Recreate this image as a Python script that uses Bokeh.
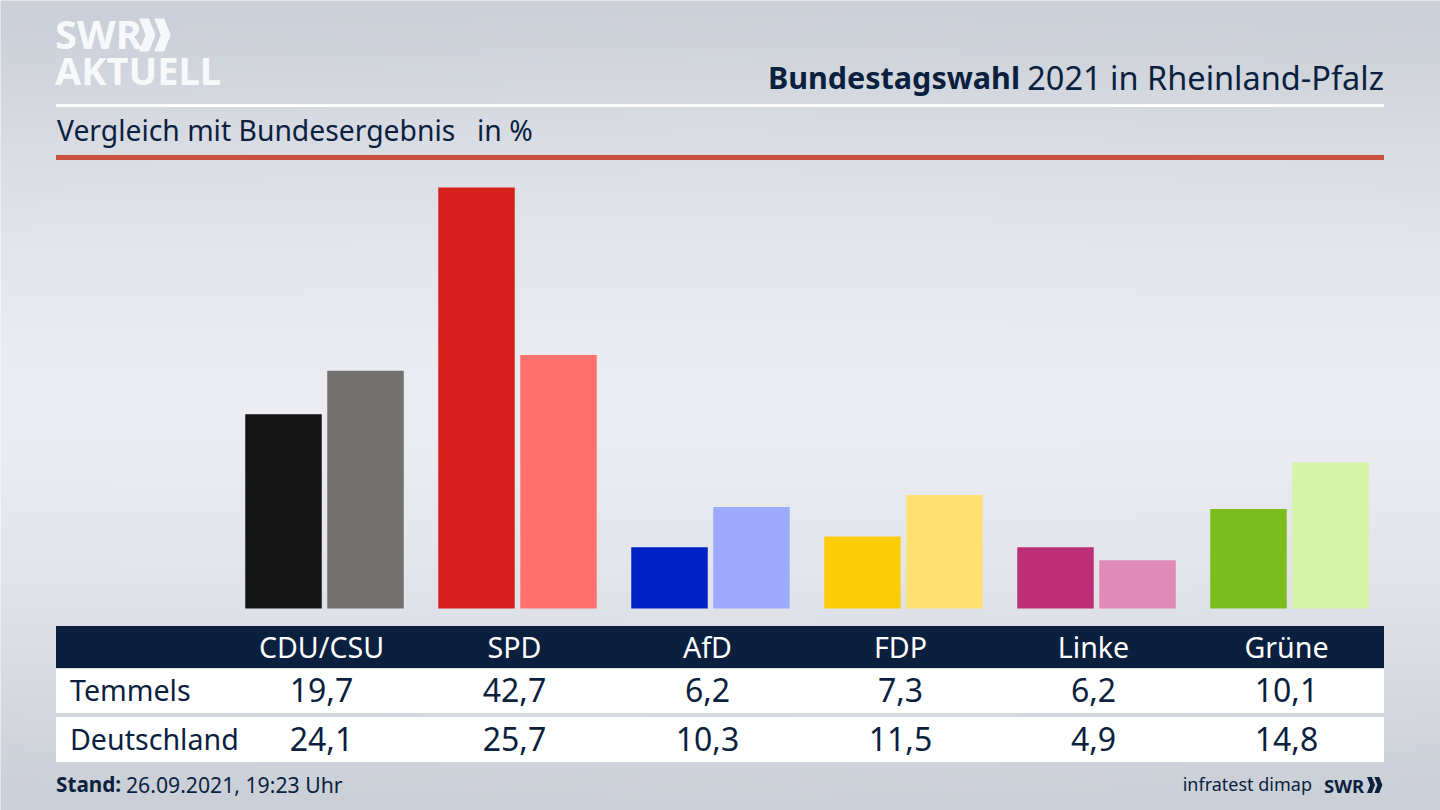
import numpy as np
from bokeh.core.properties import value
from bokeh.embed import file_html
from bokeh.models import Range1d
from bokeh.plotting import figure
from bokeh.resources import INLINE

parties = ["CDU/CSU", "SPD", "AfD", "FDP", "Linke", "Grüne"]
temmels = [19.7, 42.7, 6.2, 7.3, 6.2, 10.1]
deutschland = [24.1, 25.7, 10.3, 11.5, 4.9, 14.8]
temmels_colors = ["#141414", "#d7201e", "#0020c8", "#ffcc0a", "#bc2e77", "#7abd1c"]
deutschland_colors = ["#73726f", "#ff716d", "#9dabff", "#ffe070", "#e08ab6", "#d3f5a5"]

NAVY = "#0b1f3f"
FONT = value("Noto Sans")


def label(v):
    return f"{v:.1f}".replace(".", ",")


# one unit on x is one party group, px ranges are for the frame around the chart
p = figure(width=1440, height=810, output_backend="svg", toolbar_location=None, tools="",
           x_range=Range1d((0.5 - 324.5) / 193, (1440.5 - 324.5) / 193),
           y_range=Range1d((608 - 810) / 9.86, 608 / 9.86),
           min_border=0, outline_line_color=None)
p.axis.visible = False
p.grid.visible = False
p.extra_x_ranges = {"px": Range1d(0.5, 1440.5)}
p.extra_y_ranges = {"py": Range1d(810.5, 0.5)}

# background: dark at top and bottom, light band in the middle
yy, xx = np.mgrid[0:200, 0:360]
t = np.abs(yy / 199 - 0.5) * 2
dx = np.abs(xx / 359 - 0.5) * 2
shade = np.clip(t ** 1.5 + 0.08 * dx * t, 0, 1)
img = np.zeros((200, 360), dtype=np.uint32)
view = img.view(dtype=np.uint8).reshape((200, 360, 4))
view[..., 0] = 235 - 32 * shade
view[..., 1] = 237 - 30 * shade
view[..., 2] = 242 - 27 * shade
view[..., 3] = 255
p.image_rgba(image=[img], x=0, y=0, dw=1441, dh=811, x_range_name="px", y_range_name="py", level="image")


def px_rect(left, right, top, bottom, color):
    p.quad(left=[left], right=[right], top=[top], bottom=[bottom], color=color, line_color=None,
           x_range_name="px", y_range_name="py")


def px_text(x, y, s, size, color=NAVY, align="left", style="normal"):
    p.text(x=[x], y=[y], text=[s], text_font=FONT, text_font_size=f"{size}px", text_color=color,
           text_align=align, text_baseline="alphabetic", text_font_style=style,
           x_range_name="px", y_range_name="py")


def chevrons(x, y, h, color):
    w = h * 0.5
    t = h * 0.3
    xs, ys = [], []
    for off in (0, h * 0.46):
        x0 = x + off
        xs.append([x0, x0 + t, x0 + w, x0 + t, x0, x0 + w - t])
        ys.append([y, y, y + h / 2, y + h, y + h, y + h / 2])
    p.patches(xs, ys, color=color, line_color=None, x_range_name="px", y_range_name="py")


# header
px_text(55, 33, "SWR", 40, "#f7f8f9", style="bold")
chevrons(139, 18.5, 33, "#f7f8f9")
px_text(55, 70, "AKTUELL", 38, "#f7f8f9", style="bold")
px_rect(56, 1384, 104, 107, "#ffffff")
px_text(1020, 77, "Bundestagswahl", 30.5, align="right", style="bold")
px_text(1384, 77, "2021 in Rheinland-Pfalz", 32.5, align="right")
px_text(57, 130, "Vergleich mit Bundesergebnis", 28.3)
px_text(477, 130, "in %", 28.3)
px_rect(56, 1384, 155, 160, "#c9503c")

# bars
idx = np.arange(len(parties))
offset = 41 / 193
p.vbar(x=idx - offset, top=temmels, bottom=0, width=76.5 / 193, color=temmels_colors, line_color=None)
p.vbar(x=idx + offset, top=deutschland, bottom=0, width=76.5 / 193, color=deutschland_colors, line_color=None)

# table
text_x = idx - 3 / 193
px_rect(56, 1384, 626, 668, NAVY)
px_rect(56, 1384, 669, 713, "#ffffff")
px_rect(56, 1384, 717, 762, "#ffffff")
px_text(70, 689, "Temmels", 28.6)
px_text(70, 738, "Deutschland", 28.6)
for values, base in ((temmels, 690), (deutschland, 739)):
    p.text(x=text_x, y=[base] * len(idx), text=[label(v) for v in values], text_font=FONT, text_font_size="32px",
           text_color=NAVY, text_align="center", text_baseline="alphabetic", y_range_name="py")
p.text(x=text_x, y=[646] * len(idx), text=parties, text_font=FONT, text_font_size="28.6px",
       text_color="#ffffff", text_align="center", text_baseline="alphabetic", y_range_name="py")

# footer
px_text(56, 784, "Stand:", 20.7, style="bold")
px_text(126, 784, "26.09.2021, 19:23 Uhr", 21.2)
px_text(1312, 784, "infratest dimap", 18, align="right")
px_text(1324, 785, "SWR", 18.5, style="bold")
chevrons(1367, 777, 16, NAVY)

open("out.html", "w").write(file_html(p, INLINE))
